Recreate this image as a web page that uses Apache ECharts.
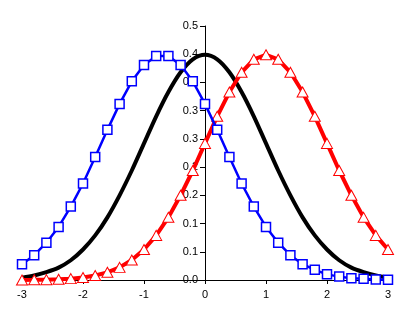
<!DOCTYPE html>
<html>
<head>
<meta charset="utf-8">
<script src="https://cdn.jsdelivr.net/npm/echarts@6/dist/echarts.min.js"></script>
<style>html,body{margin:0;padding:0;background:#fff}#c{width:400px;height:322px}</style>
</head>
<body>
<div id="c"></div>
<script>
var xValues = [-3.0,-2.8,-2.6,-2.4,-2.2,-2.0,-1.8,-1.6,-1.4,-1.2,-1.0,-0.8,-0.6,-0.4,-0.2,0.0,0.2,0.4,0.6,0.8,1.0,1.2,1.4,1.6,1.8,2.0,2.2,2.4,2.6,2.8,3.0];
var blackCurve = [0.004,0.008,0.014,0.022,0.035,0.054,0.079,0.111,0.150,0.194,0.242,0.290,0.333,0.368,0.391,0.399,0.391,0.368,0.333,0.290,0.242,0.194,0.150,0.111,0.079,0.054,0.035,0.022,0.014,0.008,0.004];
var blueSquares = [0.028,0.044,0.066,0.094,0.130,0.171,0.218,0.266,0.312,0.352,0.381,0.397,0.397,0.381,0.352,0.312,0.266,0.218,0.171,0.130,0.094,0.066,0.044,0.028,0.018,0.010,0.006,0.003,0.002,0.001,0.0004];
var redTriangles = [0.0001,0.0003,0.0006,0.0012,0.0024,0.0044,0.0079,0.0136,0.0224,0.0355,0.054,0.079,0.111,0.150,0.194,0.242,0.290,0.333,0.368,0.391,0.399,0.391,0.368,0.333,0.290,0.242,0.194,0.150,0.111,0.079,0.054];
var yTickLabels = ['0.0','0.1','0.1','0.2','0.2','0.3','0.3','0.4','0.4','0.5'];
var xTickLabels = ['-3','-2','-1','0','1','2','3'];

function pairs(ys){ return xValues.map(function(x,i){ return [x, ys[i]]; }); }

var chart = echarts.init(document.getElementById('c'), null, {renderer:'canvas'});
var font = {fontFamily:'Liberation Sans', fontSize:11, color:'#000'};
chart.setOption({
  animation:false,
  backgroundColor:'#fff',
  grid:{left:22, right:12, top:26, bottom:42, containLabel:false},
  xAxis:{
    type:'value', min:-3, max:3, interval:1,
    axisLine:{show:true, onZero:false, lineStyle:{color:'#000', width:1}},
    axisTick:{show:true, inside:false, length:4, lineStyle:{color:'#000'}},
    splitLine:{show:false},
    axisLabel:Object.assign({margin:9, formatter:function(v){ return xTickLabels[Math.round(v+3)]; }}, font)
  },
  yAxis:{
    type:'value', min:0, max:0.45, interval:0.05, position:'left', offset:-183,
    axisLine:{show:true, onZero:false, lineStyle:{color:'#000', width:1}},
    axisTick:{show:true, inside:false, length:5, lineStyle:{color:'#000'}},
    splitLine:{show:false},
    axisLabel:Object.assign({margin:7, formatter:function(v){ return yTickLabels[Math.round(v/0.05)]; }}, font)
  },
  series:[
    {type:'line', data:pairs(blackCurve), smooth:0.3, showSymbol:false, symbol:'none',
     lineStyle:{color:'#000', width:4}, z:2},
    {type:'line', data:pairs(redTriangles), symbol:'triangle', symbolSize:[11,10],
     itemStyle:{color:'#fff', borderColor:'#ff0000', borderWidth:1},
     lineStyle:{color:'#ff0000', width:4}, z:3},
    {type:'line', data:pairs(blueSquares), symbol:'rect', symbolSize:9,
     itemStyle:{color:'#fff', borderColor:'#0000ff', borderWidth:1.5},
     lineStyle:{color:'#0000ff', width:2.5}, z:4}
  ]
});
</script>
</body>
</html>
